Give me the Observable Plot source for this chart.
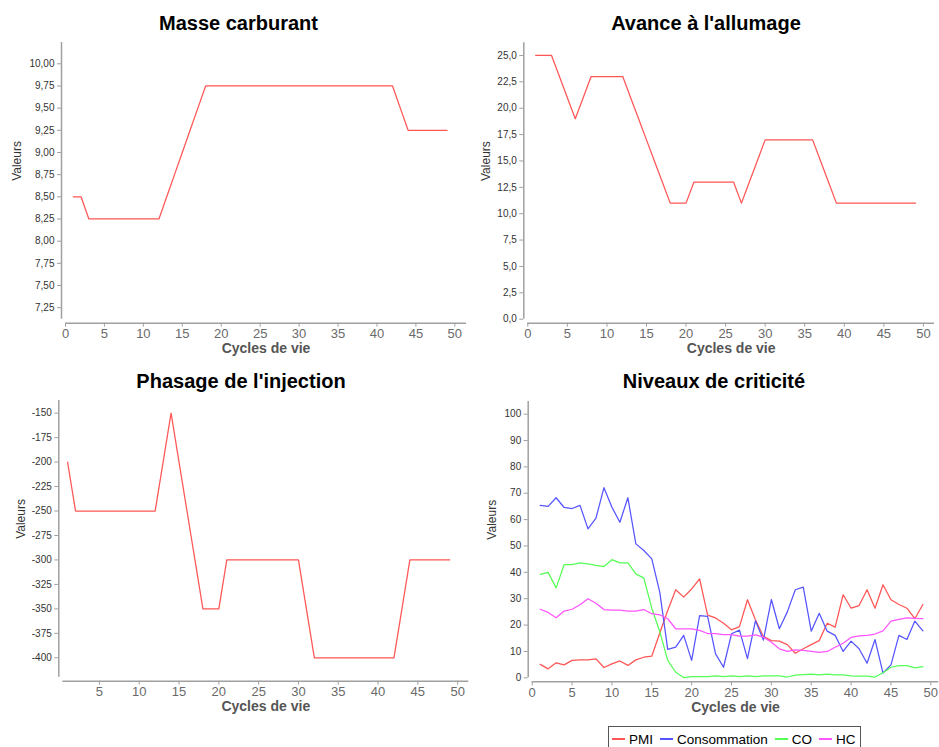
<!DOCTYPE html>
<html>
<head>
<meta charset="utf-8">
<script src="https://cdn.jsdelivr.net/npm/d3@7"></script>
<script src="https://cdn.jsdelivr.net/npm/@observablehq/plot@0.6"></script>
<style>
  html, body { margin: 0; padding: 0; background: #fff; }
  #root { position: relative; width: 939px; height: 747px; overflow: hidden; background: #fff; font-family: "Liberation Sans", Arial, sans-serif; }
  .panel { position: absolute; }
  .title { position: absolute; font: bold 20px "Liberation Sans", Arial, sans-serif; color: #000; white-space: nowrap; transform: translateX(-50%); line-height: 1; }
  #legend { position: absolute; left: 608px; top: 726px; height: 30px; box-sizing: border-box; border: 1px solid #555; background: #fff;
            display: flex; align-items: flex-start; padding: 4px 3px 0 3px; font: 13.5px "Liberation Sans", Arial, sans-serif; color: #000; }
  #legend .item { display: flex; align-items: center; margin-right: 7px; height: 16px; }
  #legend .item:last-child { margin-right: 1px; }
  #legend .sw { width: 13px; height: 2px; margin-right: 4px; }
</style>
</head>
<body>
<div id="root"></div>
<script>
// ---------- data ----------
const cycles = [1,2,3,4,5,6,7,8,9,10,11,12,13,14,15,16,17,18,19,20,21,22,23,24,25,26,27,28,29,30,31,32,33,34,35,36,37,38,39,40,41,42,43,44,45,46,47,48,49];

const masseCarburant = [8.5,8.5,8.25,8.25,8.25,8.25,8.25,8.25,8.25,8.25,8.25,8.25,8.5,8.75,9.0,9.25,9.5,
  9.75,9.75,9.75,9.75,9.75,9.75,9.75,9.75,9.75,9.75,9.75,9.75,9.75,9.75,9.75,9.75,9.75,9.75,9.75,9.75,9.75,9.75,9.75,9.75,9.75,
  9.5,9.25,9.25,9.25,9.25,9.25,9.25];

const avanceAllumage = [25,25,25,23,21,19,21,23,23,23,23,23,21,19,17,15,13,11,11,11,13,13,13,13,13,13,11,13,15,17,17,17,17,17,17,17,15,13,11,11,11,11,11,11,11,11,11,11,11];

const phasageInjection = [-200,-250,-250,-250,-250,-250,-250,-250,-250,-250,-250,-250,-200,-150,-200,-250,-300,-350,-350,-350,
  -300,-300,-300,-300,-300,-300,-300,-300,-300,-300,-350,-400,-400,-400,-400,-400,-400,-400,-400,-400,-400,-400,-350,
  -300,-300,-300,-300,-300,-300];

const seriesNames = ["PMI", "Consommation", "CO", "HC"];
const seriesColors = ["#ff5555", "#5555ff", "#55ff55", "#ff55ff"];
const pmi = [5.1,3.4,5.7,4.9,6.6,6.8,6.8,7.2,3.9,5.3,6.4,4.7,6.8,7.8,8.2,17.0,25.5,33.4,30.6,33.7,37.5,23.8,22.7,20.7,18.2,19.4,29.6,22.0,15.7,14.1,13.9,12.6,9.3,11.0,12.6,14.1,20.7,19.2,31.5,26.4,27.4,33.4,26.4,35.3,29.6,27.8,26.4,22.4,27.8];
const consommation = [65.4,65.0,68.3,64.6,64.2,65.4,56.5,60.6,72.1,64.7,59.0,68.3,50.8,48.3,45.1,32.5,10.8,11.6,16.1,6.6,23.6,23.3,9.1,4.0,16.7,18.1,7.3,21.6,14.3,29.7,18.6,25.0,33.4,34.4,17.7,24.5,17.7,16.1,10.0,13.9,11.0,5.5,14.5,1.8,4.9,16.1,14.5,21.5,17.8];
const co = [39.2,40.0,34.1,42.9,42.9,43.6,43.2,42.6,42.2,44.8,43.6,43.6,39.4,37.8,26.4,17.5,6.6,2.1,0.1,0.4,0.4,0.4,0.7,0.4,0.7,0.4,0.7,0.4,0.7,0.7,0.7,0.3,1.0,1.2,1.4,1.1,1.4,1.1,1.1,0.7,0.6,0.6,0.3,1.9,4.0,4.6,4.6,3.8,4.2];
const hc = [26.0,24.8,22.8,25.3,26.0,27.7,30.0,28.3,25.9,25.7,25.7,25.3,25.3,25.9,24.3,23.9,22.4,18.6,18.6,18.6,18.0,16.8,16.8,16.4,16.4,15.8,15.8,16.3,15.4,13.5,11.0,10.0,10.6,10.4,10.0,9.6,10.0,11.6,13.1,15.3,15.9,16.1,16.6,17.8,21.5,22.2,22.7,22.5,22.4];

const xTicksFull = [0,5,10,15,20,25,30,35,40,45,50];
const xTicksNoZero = [5,10,15,20,25,30,35,40,45,50];
const yTicksMasse = [7.25,7.5,7.75,8.0,8.25,8.5,8.75,9.0,9.25,9.5,9.75,10.0];
const yTicksAvance = [0,2.5,5,7.5,10,12.5,15,17.5,20,22.5,25];
const yTicksPhasage = [-400,-375,-350,-325,-300,-275,-250,-225,-200,-175,-150];
const yTicksNiveaux = [0,10,20,30,40,50,60,70,80,90,100];

const titles = ["Masse carburant", "Avance à l'allumage", "Phasage de l'injection", "Niveaux de criticité"];
const xLabel = "Cycles de vie";
const yLabel = "Valeurs";

// ---------- helpers ----------
const root = document.getElementById("root");
const FONT = "'Liberation Sans', Arial, sans-serif";
const AXIS = "#a0a0a0";

function fmtComma(d) { return (v) => v.toFixed(d).replace(".", ","); }
function fmtInt(v) { return String(v); }

function panel(cfg) {
  const marks = [
    Plot.ruleX([cfg.xDomain[0]], {dx: -4, stroke: AXIS, strokeWidth: 1.5}),
    Plot.ruleY([cfg.yDomain[0]], {dy: 4, stroke: AXIS, strokeWidth: 1.5}),
    Plot.axisY({ticks: cfg.yTicks, tickFormat: cfg.yFormat, dx: -4, tickSize: 4, tickPadding: 3,
                fontSize: 10, stroke: AXIS, fill: "#333", label: null}),
    Plot.axisX({ticks: cfg.xTicks, tickFormat: fmtInt, dy: 4, tickSize: 4, tickPadding: 2,
                fontSize: 13, stroke: AXIS, fill: "#6a6a6a", label: null}),
    ...cfg.marks,
    Plot.text([xLabel], {text: d => d, frameAnchor: "bottom", dy: cfg.xLabelDy, fontSize: 14, fontWeight: "bold", fill: "#555"}),
    Plot.text([yLabel], {text: d => d, frameAnchor: "left", dx: cfg.yLabelDx, rotate: -90, fontSize: 12, fill: "#333"})
  ];
  const chart = Plot.plot({
    width: 469, height: 365,
    marginLeft: cfg.ml, marginRight: 469 - cfg.pr, marginTop: cfg.mt, marginBottom: 365 - cfg.pb,
    style: {fontFamily: FONT, background: "transparent", overflow: "visible"},
    x: {domain: cfg.xDomain},
    y: {domain: cfg.yDomain},
    marks
  });
  const div = document.createElement("div");
  div.className = "panel";
  div.style.left = cfg.left + "px";
  div.style.top = cfg.top + "px";
  div.appendChild(chart);
  root.appendChild(div);

  const t = document.createElement("div");
  t.className = "title";
  t.textContent = cfg.title;
  t.style.left = (cfg.left + cfg.titleX) + "px";
  t.style.top = (cfg.top + cfg.titleTop) + "px";
  root.appendChild(t);
}

const single = (vals) => cycles.map((c, i) => ({cycle: c, value: vals[i]}));
const lineOpts = {x: "cycle", y: "value", stroke: "#ff5555", strokeWidth: 1.25};

// Panel 1
panel({
  left: 0, top: 0, ml: 65, pr: 466, mt: 42, pb: 318.7,
  xDomain: [0, 51.5], yDomain: [7.12, 10.24],
  xTicks: xTicksFull, yTicks: yTicksMasse, yFormat: fmtComma(2),
  xLabelDy: 34, yLabelDx: -48,
  title: titles[0], titleX: 238.5, titleTop: 13,
  marks: [Plot.line(single(masseCarburant), lineOpts)]
});

// Panel 2
panel({
  left: 470, top: 0, ml: 57.3, pr: 464, mt: 42.3, pb: 318.7,
  xDomain: [0, 51.4], yDomain: [0, 26.2],
  xTicks: xTicksFull, yTicks: yTicksAvance, yFormat: fmtComma(1),
  xLabelDy: 34, yLabelDx: -42,
  title: titles[1], titleX: 236, titleTop: 13,
  marks: [Plot.line(single(avanceAllumage), lineOpts)]
});

// Panel 3
panel({
  left: 0, top: 365, ml: 62.3, pr: 468.3, mt: 35, pb: 311.7,
  xDomain: [0.4, 51.4], yDomain: [-419.8, -137.1],
  xTicks: xTicksNoZero, yTicks: yTicksPhasage, yFormat: fmtInt,
  xLabelDy: 33.5, yLabelDx: -42,
  title: titles[2], titleX: 241, titleTop: 6,
  marks: [Plot.line(single(phasageInjection), lineOpts)]
});

// Panel 4
const multi = [];
[pmi, consommation, co, hc].forEach((arr, s) => {
  cycles.forEach((c, i) => multi.push({cycle: c, value: arr[i], series: seriesNames[s]}));
});
panel({
  left: 470, top: 365, ml: 61.7, pr: 468.3, mt: 36, pb: 312.3,
  xDomain: [0, 51], yDomain: [0, 104.8],
  xTicks: xTicksFull, yTicks: yTicksNiveaux, yFormat: fmtInt,
  xLabelDy: 34.5, yLabelDx: -40,
  title: titles[3], titleX: 244, titleTop: 6,
  marks: [Plot.line(multi, {x: "cycle", y: "value", z: "series", stroke: d => seriesColors[seriesNames.indexOf(d.series)], strokeWidth: 1.25})]
});

// Legend
const legend = document.createElement("div");
legend.id = "legend";
seriesNames.forEach((n, i) => {
  const it = document.createElement("div");
  it.className = "item";
  const sw = document.createElement("div");
  sw.className = "sw";
  sw.style.background = seriesColors[i];
  const tx = document.createElement("span");
  tx.textContent = n;
  it.appendChild(sw);
  it.appendChild(tx);
  legend.appendChild(it);
});
root.appendChild(legend);
</script>
</body>
</html>
